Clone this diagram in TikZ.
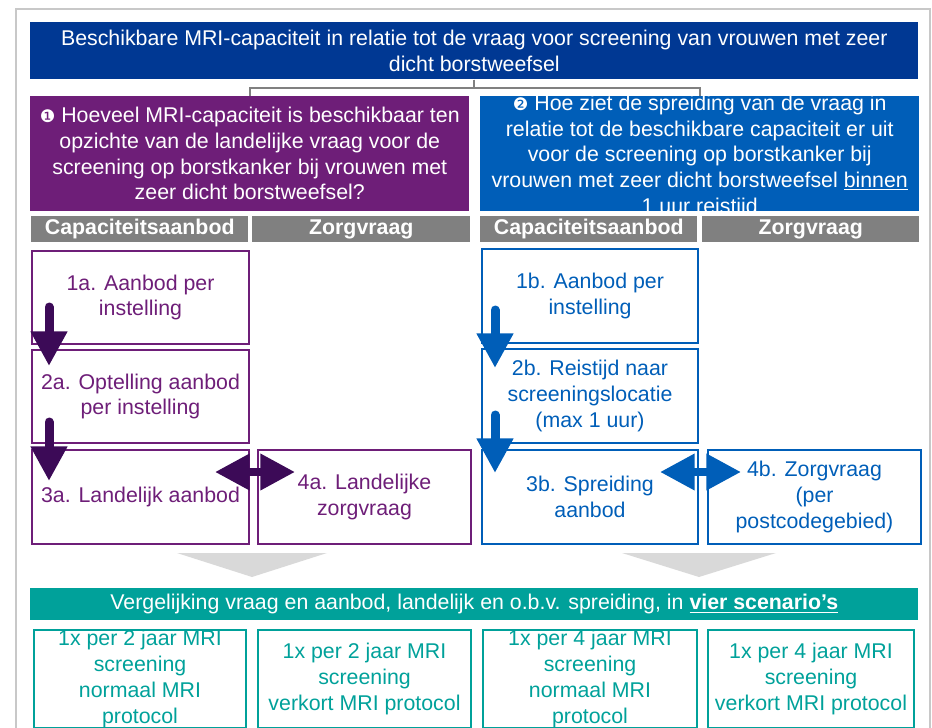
\documentclass[tikz,border=0pt]{standalone}
\usepackage{fontspec}
\setmainfont{Liberation Sans}
\newfontfamily\dingfont{DejaVu Sans}
\usetikzlibrary{arrows.meta}

\definecolor{titleblue}{HTML}{003893}
\definecolor{qpurple}{HTML}{6E1E78}
\definecolor{qblue}{HTML}{005EB8}
\definecolor{arrowpurple}{HTML}{3C0A57}
\definecolor{hdrgray}{HTML}{808080}
\definecolor{conngray}{HTML}{808080}
\definecolor{tealc}{HTML}{00A19A}
\definecolor{framegray}{HTML}{C8C8C8}
\definecolor{chevgray}{HTML}{D9D9D9}

% one pixel of the picture
\newcommand{\px}{*0.75pt}

\begin{document}
\begin{tikzpicture}[x=0.75pt, y=-0.75pt,
    every node/.style={font=\fontsize{16}{19.3}\selectfont, align=center, inner sep=0pt, anchor=north west},
    dims/.style 2 args={minimum width=#1\px, minimum height=#2\px},
    banner/.style={fill=#1, text=white},
    stepbox/.style={draw=#1, text=#1, line width=1.5pt},
    header/.style={fill=hdrgray, text=white, font=\fontsize{16}{19}\selectfont\bfseries},
    conn/.style={draw=conngray, line width=1.5pt},
    flow/.style={#1, line width=6.75pt, line cap=round, -{Triangle[length=26pt, width=26pt]}},
    twoway/.style={#1, line width=6pt, {Triangle[length=26pt, width=26pt]}-{Triangle[length=26pt, width=26pt]}},
]
    \useasboundingbox (0,0) rectangle (932,728);

    % Frame
    \draw[framegray, line width=2pt] (16,9) rectangle (930,740);

    % Title
    \node[banner=titleblue, dims={888}{57}] (title) at (30,22) {Beschikbare MRI-capaciteit in relatie tot de vraag voor screening van vrouwen met zeer\\dicht borstweefsel};

    % Questions
    \node[banner=qpurple, dims={439}{115}] (qa) at (30,96) {{\dingfont\fontsize{13}{19}\selectfont ❶} Hoeveel MRI-capaciteit is beschikbaar ten\\opzichte van de landelijke vraag voor de\\screening op borstkanker bij vrouwen met\\zeer dicht borstweefsel?};
    \node[banner=qblue, dims={439}{115}] (qb) at (480,96) {};
    \begin{scope}
        \clip (qb.north west) rectangle (qb.south east);
        \node[text=white, anchor=center] (qbtext) at ([yshift=-4\px]qb.center) {{\dingfont\fontsize{13}{19}\selectfont ❷} Hoe ziet de spreiding van de vraag in\\relatie tot de beschikbare capaciteit er uit\\voor de screening op borstkanker bij\\vrouwen met zeer dicht borstweefsel \underline{binnen}\\\underline{1 uur reistijd}};
    \end{scope}

    \draw[conn] (title.south) -- ++(0,8) -| (qa.north);
    \draw[conn] (title.south) -- ++(0,8) -| (qb.north);

    % Column headers
    \node[header, dims={217}{26}] (capa) at (31,216) {Capaciteitsaanbod};
    \node[header, dims={218}{26}] (zorga) at (252,216) {Zorgvraag};
    \node[header, dims={217}{26}] (capb) at (480,216) {Capaciteitsaanbod};
    \node[header, dims={217}{26}] (zorgb) at (702,216) {Zorgvraag};

    % Steps, national
    \node[stepbox=qpurple, dims={217}{93}] (a1) at (31,250) {1a. Aanbod per\\instelling};
    \node[stepbox=qpurple, dims={217}{93}] (a2) at (31,349) {2a. Optelling aanbod\\per instelling};
    \node[stepbox=qpurple, dims={217}{94}] (a3) at (31,449) {3a. Landelijk aanbod};
    \node[stepbox=qpurple, dims={213}{94}] (a4) at (257,449) {4a. Landelijke\\zorgvraag};

    \draw[flow=arrowpurple] ([xshift=18\px, yshift=38\px]a1.south west) -- ([xshift=18\px, yshift=-17\px]a2.north west);
    \draw[flow=arrowpurple] ([xshift=18\px, yshift=22\px]a2.south west) -- ([xshift=18\px, yshift=-32\px]a3.north west);
    \draw[twoway=arrowpurple] ([xshift=-35\px, yshift=-23\px]a3.north east) -- ([xshift=38\px, yshift=-23\px]a4.north west);

    % Steps, spread
    \node[stepbox=qblue, dims={216}{94}] (b1) at (481,248) {1b. Aanbod per\\instelling};
    \node[stepbox=qblue, dims={216}{94}] (b2) at (481,348) {2b. Reistijd naar\\screeningslocatie\\(max 1 uur)};
    \node[stepbox=qblue, dims={216}{94}] (b3) at (481,449) {3b. Spreiding\\aanbod};
    \node[stepbox=qblue, dims={213}{94}] (b4) at (707,449) {4b. Zorgvraag\\(per\\postcodegebied)};

    \draw[flow=qblue] ([xshift=14\px, yshift=34\px]b1.south west) -- ([xshift=14\px, yshift=-20\px]b2.north west);
    \draw[flow=qblue] ([xshift=14\px, yshift=29\px]b2.south west) -- ([xshift=14\px, yshift=-24\px]b3.north west);
    \draw[twoway=qblue] ([xshift=-39\px, yshift=-23\px]b3.north east) -- ([xshift=34\px, yshift=-23\px]b4.north west);

    % Chevrons
    \fill[chevgray] (177,553) -- (327,553) -- (252,577) -- cycle;
    \fill[chevgray] (622,553) -- (776,553) -- (699,577) -- cycle;

    % Scenarios
    \node[banner=tealc, dims={888}{32}] (compare) at (30,588) {Vergelijking vraag en aanbod, landelijk en o.b.v. spreiding, in \textbf{\underline{vier scenario’s}}};

    \node[stepbox=tealc, dims={212}{98}] (s1) at (33,629) {1x per 2 jaar MRI\\screening\\normaal MRI\\protocol};
    \node[stepbox=tealc, dims={213}{98}] (s2) at (257,629) {1x per 2 jaar MRI\\screening\\verkort MRI protocol};
    \node[stepbox=tealc, dims={214}{98}] (s3) at (482,629) {1x per 4 jaar MRI\\screening\\normaal MRI\\protocol};
    \node[stepbox=tealc, dims={206}{98}] (s4) at (707,629) {1x per 4 jaar MRI\\screening\\verkort MRI protocol};
\end{tikzpicture}
\end{document}
